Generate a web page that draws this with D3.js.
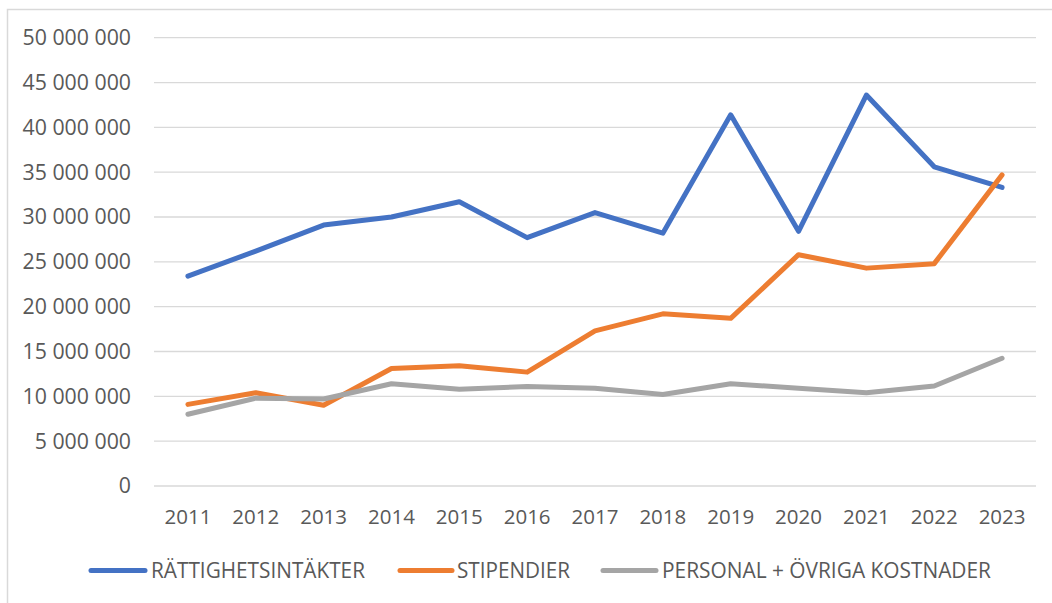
<!DOCTYPE html>
<html>
<head>
    <meta charset="utf-8">
    <script src="https://d3js.org/d3.v7.min.js"></script>
    <style>
        body {
            margin: 0;
            background: #fff;
        }
        svg {
            display: block;
            font-family: "Open Sans", sans-serif;
        }
        .grid line {
            stroke: #d9d9d9;
            stroke-width: 1.3px;
        }
        .tick-label {
            fill: #595959;
            font-size: 20.5px;
        }
        .series {
            fill: none;
            stroke-width: 5px;
            stroke-linejoin: round;
            stroke-linecap: round;
        }
    </style>
</head>
<body>
    <svg id="chart" width="1052" height="603"></svg>

    <script>
        // Data
        const years = ["2011", "2012", "2013", "2014", "2015", "2016", "2017", "2018", "2019", "2020", "2021", "2022", "2023"];
        const rattighetsintakter = [23400000, 26200000, 29100000, 30000000, 31700000, 27700000, 30500000, 28200000, 41400000, 28400000, 43600000, 35600000, 33300000];
        const stipendier = [9100000, 10400000, 9000000, 13100000, 13400000, 12700000, 17300000, 19200000, 18700000, 25800000, 24300000, 24800000, 34700000];
        const personal = [8000000, 9800000, 9700000, 11400000, 10800000, 11100000, 10900000, 10200000, 11400000, 10900000, 10400000, 11150000, 14250000];
        const yTicks = [0, 5000000, 10000000, 15000000, 20000000, 25000000, 30000000, 35000000, 40000000, 45000000, 50000000];
        const seriesNames = ["RÄTTIGHETSINTÄKTER", "STIPENDIER", "PERSONAL + ÖVRIGA KOSTNADER"];
        const seriesColors = ["#4472c4", "#ed7d31", "#a5a5a5"];

        const seriesValues = [rattighetsintakter, stipendier, personal];

        const svg = d3.select("#chart");

        // outer frame (only top and left edges are inside the picture)
        svg.append("rect")
           .attr("x", 7.5).attr("y", 9.5)
           .attr("width", 1100).attr("height", 700)
           .attr("fill", "none")
           .attr("stroke", "#d9d9d9")
           .attr("stroke-width", 1.5);

        const x = d3.scaleBand()
            .domain(years)
            .range([154, 1036]);

        const y = d3.scaleLinear()
            .domain([0, 50000000])
            .range([486, 37.7]);

        const swedish = d3.formatLocale({ decimal: ",", thousands: " ", grouping: [3], currency: ["", " kr"] });
        const fmt = swedish.format(",d");

        // gridlines
        svg.append("g")
           .attr("class", "grid")
           .selectAll("line")
           .data(yTicks)
           .enter()
           .append("line")
           .attr("x1", 154)
           .attr("x2", 1036)
           .attr("y1", d => y(d))
           .attr("y2", d => y(d));

        // y labels
        svg.append("g")
           .selectAll("text")
           .data(yTicks)
           .enter()
           .append("text")
           .attr("class", "tick-label")
           .attr("x", 131)
           .attr("y", d => y(d))
           .attr("dy", "0.35em")
           .attr("text-anchor", "end")
           .style("font-size", "21.3px")
           .text(d => fmt(d));

        // x labels
        svg.append("g")
           .selectAll("text")
           .data(years)
           .enter()
           .append("text")
           .attr("class", "tick-label")
           .attr("x", d => x(d) + x.bandwidth() / 2)
           .attr("y", 524)
           .attr("text-anchor", "middle")
           .text(d => d);

        // lines
        const line = d3.line()
            .x((d, i) => x(years[i]) + x.bandwidth() / 2)
            .y(d => y(d));

        seriesValues.forEach((vals, i) => {
            svg.append("path")
               .attr("class", "series")
               .attr("d", line(vals))
               .attr("stroke", seriesColors[i]);
        });

        // legend
        const legendPos = [
            { x1: 91, x2: 145, tx: 151, tw: 214 },
            { x1: 400, x2: 452, tx: 457, tw: 113 },
            { x1: 603, x2: 656, tx: 662, tw: 329 }
        ];
        const legend = svg.append("g");
        seriesNames.forEach((name, i) => {
            const p = legendPos[i];
            legend.append("line")
                  .attr("x1", p.x1).attr("x2", p.x2)
                  .attr("y1", 570.5).attr("y2", 570.5)
                  .attr("stroke", seriesColors[i])
                  .attr("stroke-width", 5)
                  .attr("stroke-linecap", "round");
            legend.append("text")
                  .attr("class", "tick-label")
                  .attr("x", p.tx)
                  .attr("y", 577.5)
                  .attr("textLength", p.tw)
                  .attr("lengthAdjust", "spacingAndGlyphs")
                  .style("font-size", "21px")
                  .text(name);
        });
    </script>
</body>
</html>
